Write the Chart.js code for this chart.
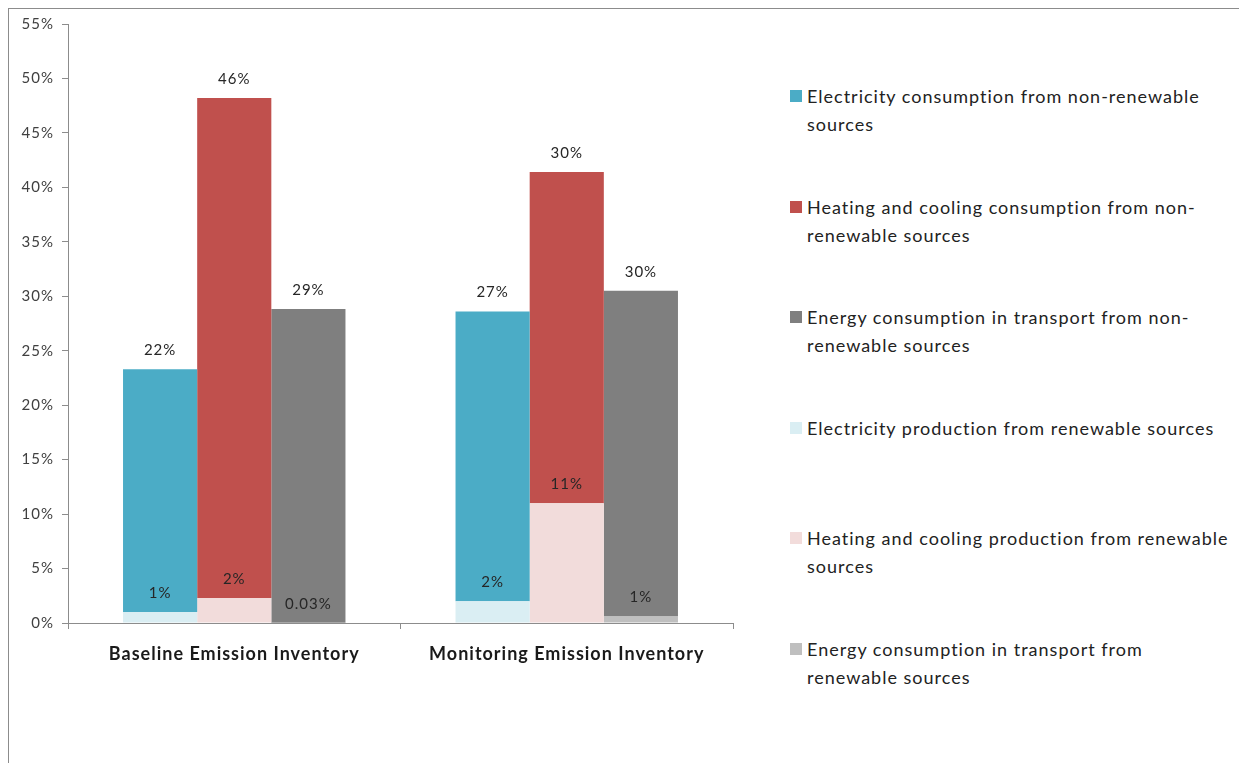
<!DOCTYPE html>
<html>
<head>
<meta charset="utf-8">
<script src="https://cdn.jsdelivr.net/npm/chart.js@4.4.1/dist/chart.umd.min.js"></script>
<style>
  html, body { margin: 0; padding: 0; background: #fff; overflow: hidden; }
  #frame { position: absolute; left: 8px; top: 8px; width: 1300px; height: 800px; border: 1px solid #8c8c8c; }
  #wrap { position: absolute; left: 0; top: 0; width: 760px; height: 763px; }
  #legend { position: absolute; left: 790px; top: 82px; font-family: Lato, "Open Sans", sans-serif; font-size: 18px; letter-spacing: 1px; color: #222; }
  .item { position: absolute; left: 0; width: 440px; line-height: 28px; }
  .item .box { position: absolute; left: 0; top: 8px; width: 12px; height: 12px; }
  .item .txt { position: absolute; left: 17px; top: 0; white-space: nowrap; }
</style>
</head>
<body>
<div id="frame"></div>
<div id="wrap"><canvas id="emissionChart"></canvas></div>
<div id="legend"></div>
<script>
const categories = ['Baseline Emission Inventory', 'Monitoring Emission Inventory'];
const elecNonRenewable = [22.3, 26.6];
const heatNonRenewable = [45.9, 30.4];
const transNonRenewable = [28.8, 29.9];
const elecRenewable = [1.0, 2.0];
const heatRenewable = [2.3, 11.0];
const transRenewable = [0.03, 0.6];
const yMax = 55;
const yStep = 5;

const legendLines = [
    ['Electricity consumption from non-renewable', 'sources'],
    ['Heating and cooling consumption from non-', 'renewable sources'],
    ['Energy consumption in transport from non-', 'renewable sources'],
    ['Electricity production from renewable sources'],
    ['Heating and cooling production from renewable', 'sources'],
    ['Energy consumption in transport from', 'renewable sources']
];

const FONT = 'Lato, "Open Sans", sans-serif';

// renewable parts first so they sit at the bottom of each stack
const datasets = [
    { label: 'Electricity production from renewable sources', data: elecRenewable, backgroundColor: '#DAEEF3', stack: 'elec', legendIdx: 3 },
    { label: 'Electricity consumption from non-renewable sources', data: elecNonRenewable, backgroundColor: '#4BACC6', stack: 'elec', legendIdx: 0 },
    { label: 'Heating and cooling production from renewable sources', data: heatRenewable, backgroundColor: '#F2DCDB', stack: 'heat', legendIdx: 4 },
    { label: 'Heating and cooling consumption from non-renewable sources', data: heatNonRenewable, backgroundColor: '#C0504D', stack: 'heat', legendIdx: 1 },
    { label: 'Energy consumption in transport from renewable sources', data: transRenewable, backgroundColor: '#BFBFBF', stack: 'trans', legendIdx: 5 },
    { label: 'Energy consumption in transport from non-renewable sources', data: transNonRenewable, backgroundColor: '#7F7F7F', stack: 'trans', legendIdx: 2 }
];

function fmt(v) {
    return v < 0.1 ? v.toFixed(2) + '%' : Math.round(v) + '%';
}

// wider text spacing, closer to the original rendering
const spacing = {
    id: 'spacing',
    beforeDraw(chart) { chart.ctx.letterSpacing = '1px'; }
};

const valueLabels = {
    id: 'valueLabels',
    afterDatasetsDraw(chart) {
        const ctx = chart.ctx;
        ctx.save();
        ctx.font = '15px ' + FONT;
        ctx.fillStyle = '#262626';
        ctx.textAlign = 'center';
        ctx.textBaseline = 'middle';
        chart.data.datasets.forEach((ds, i) => {
            chart.getDatasetMeta(i).data.forEach((bar, j) => {
                ctx.fillText(fmt(ds.data[j]), bar.x, bar.y - 19);
            });
        });
        ctx.restore();
    }
};

const ctx = document.getElementById('emissionChart').getContext('2d');
const myChart = new Chart(ctx, {
    type: 'bar',
    data: { labels: categories, datasets: datasets },
    options: {
        responsive: true,
        maintainAspectRatio: false,
        animation: false,
        layout: { padding: { left: 8, top: 24, right: 27, bottom: 0 } },
        datasets: { bar: { categoryPercentage: 0.669, barPercentage: 1.0, borderWidth: 0 } },
        plugins: { legend: { display: false }, tooltip: { enabled: false } },
        scales: {
            x: {
                stacked: true,
                grid: { display: true, offset: true, drawOnChartArea: false, tickLength: 6, color: '#8c8c8c' },
                border: { color: '#8c8c8c' },
                ticks: { padding: 14, color: '#1a1a1a', font: { family: FONT, size: 18, weight: 'bold' } },
                afterFit(scale) { scale.height = 140; }
            },
            y: {
                stacked: true,
                min: 0,
                max: yMax,
                grid: { display: true, drawOnChartArea: false, tickLength: 6, color: '#8c8c8c' },
                border: { color: '#8c8c8c' },
                ticks: { stepSize: yStep, padding: 8, color: '#404040', font: { family: FONT, size: 15 }, callback: v => v + '%' },
                afterFit(scale) { scale.width = 60; }
            }
        }
    },
    plugins: [spacing, valueLabels]
});

// legend on the right
const legend = document.getElementById('legend');
const ordered = datasets.slice().sort((a, b) => a.legendIdx - b.legendIdx);
ordered.forEach((ds, k) => {
    const item = document.createElement('div');
    item.className = 'item';
    item.style.top = (k * 110.5) + 'px';
    item.innerHTML = `
        <span class="box" style="background:${ds.backgroundColor}"></span>
        <span class="txt">${legendLines[ds.legendIdx].join('<br>')}</span>
    `;
    legend.appendChild(item);
});
</script>
</body>
</html>
